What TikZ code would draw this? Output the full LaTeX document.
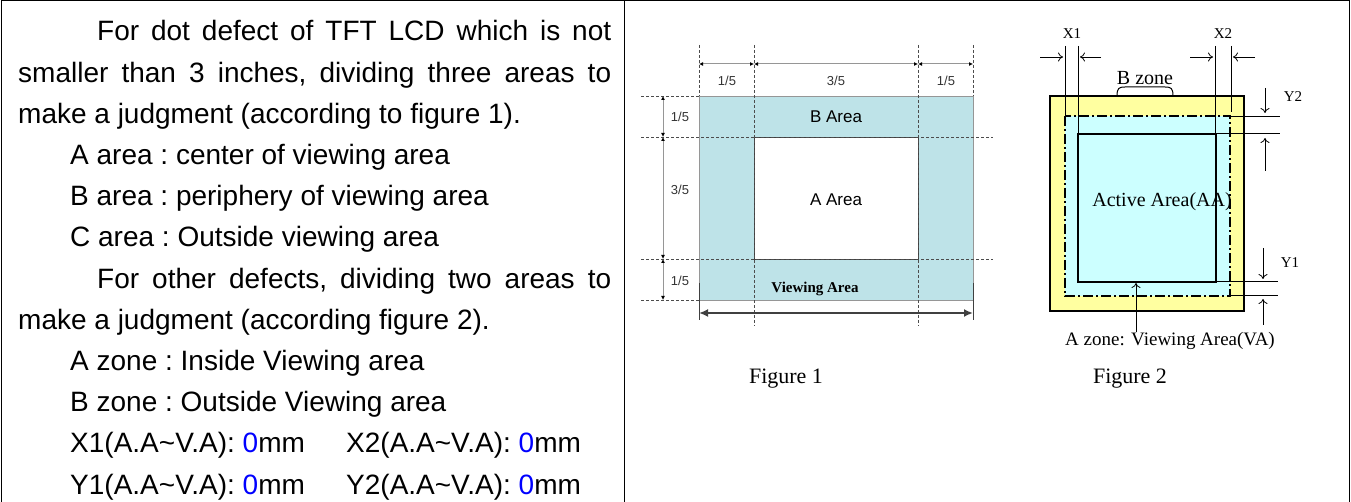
\documentclass[tikz,border=0pt]{standalone}
\usepackage{fontspec}
\setmainfont{Liberation Serif}
\setsansfont{Liberation Sans}
\usetikzlibrary{arrows.meta,calc,positioning}
\definecolor{areacyan}{RGB}{190,227,232}
\definecolor{zoneyellow}{RGB}{255,255,160}
\definecolor{zonecyan}{RGB}{204,255,255}
\definecolor{dimgray}{RGB}{150,150,150}
\definecolor{zeroblue}{RGB}{0,0,255}
\tikzset{
  frame/.style={draw=black,line width=1pt},
  lefttext/.style={anchor=north west,inner sep=0pt,text width=593pt,align=justify,
    font=\sffamily\fontsize{28}{41.2}\selectfont\frenchspacing},
  dimline/.style={draw=dimgray,line width=1pt,{Latex[length=4pt,width=4pt,black]}-{Latex[length=4pt,width=4pt,black]}},
  guide/.style={draw=black!70,densely dashed,line width=0.4pt},
  fraclabel/.style={font=\sffamily\fontsize{13}{13}\selectfont,text=black!80,inner sep=0pt},
  arealabel/.style={font=\sffamily\fontsize{17}{17}\selectfont,inner sep=0pt},
  zonelabel/.style={font=\fontsize{15}{15}\selectfont,inner sep=0pt},
  caption/.style={font=\fontsize{22}{22}\selectfont,inner sep=0pt},
  thinarrow/.style={draw=black,line width=0.8pt,-{To[length=5pt,width=9pt]}},
}
\begin{document}
\begin{tikzpicture}[x=1pt,y=-1pt]
 \useasboundingbox (0,0) rectangle (1351,502);
 % table frame
 \draw[frame] (1,502) -- (1,1) -- (1349,1) -- (1349,502);
 \draw[frame] (624,1) -- (624,502);

 % description
 \node[lefttext] (desc) at (18,20.5) {%
  \hspace*{79pt}For dot defect of TFT LCD which is not\linebreak
  smaller than 3 inches, dividing three areas to\linebreak
  make a judgment (according to figure 1).\par
  \hspace*{52pt}A area : center of viewing area\par
  \hspace*{52pt}B area : periphery of viewing area\par
  \hspace*{52pt}C area : Outside viewing area\par
  \hspace*{79pt}For other defects, dividing two areas to\linebreak
  make a judgment (according figure 2).\par
  \hspace*{52pt}A zone : Inside Viewing area\par
  \hspace*{52pt}B zone : Outside Viewing area\par
  \hspace*{52pt}\makebox[276pt][l]{X1(A.A\textasciitilde V.A): \textcolor{zeroblue}{0}mm}X2(A.A\textasciitilde V.A): \textcolor{zeroblue}{0}mm\par
  \hspace*{52pt}\makebox[276pt][l]{Y1(A.A\textasciitilde V.A): \textcolor{zeroblue}{0}mm}Y2(A.A\textasciitilde V.A): \textcolor{zeroblue}{0}mm};

 % figure 1
 \fill[areacyan] (699,96) rectangle (973,300);
 \draw[dimgray,line width=0.8pt] (699,96) rectangle (973,300);
 \fill[white] (754,137) rectangle (918,259);
 \draw[black!75,line width=0.8pt] (754,137) rectangle (918,259);
 \foreach \gx/\gtop/\gbot in {699/45/96,754/45/326,918/45/326,973/45/96}
  \draw[guide] (\gx,\gtop) -- (\gx,\gbot);
 \foreach \gy/\gend in {96/699,137/993,259/993,300/699}
  \draw[guide] (641,\gy) -- (\gend,\gy);
 \coordinate (t0) at (699,64);
 \coordinate (t1) at (754,64);
 \coordinate (t2) at (918,64);
 \coordinate (t3) at (973,64);
 \draw[dimline] (t0) -- (t1);
 \draw[dimline] (t1) -- (t2);
 \draw[dimline] (t2) -- (t3);
 \node[fraclabel] (ta) at (727,81) {1/5};
 \node[fraclabel] (tb) at (836,81) {3/5};
 \node[fraclabel] (tc) at (946,81) {1/5};
 \coordinate (s0) at (663,96);
 \coordinate (s1) at (663,137);
 \coordinate (s2) at (663,259);
 \coordinate (s3) at (663,300);
 \draw[dimline] (s0) -- (s1);
 \draw[dimline] (s1) -- (s2);
 \draw[dimline] (s2) -- (s3);
 \node[fraclabel] (sa) at (680,117) {1/5};
 \node[fraclabel] (sb) at (680,190) {3/5};
 \node[fraclabel] (sc) at (680,281) {1/5};
 \node[arealabel] (barea) at (836,117) {B Area};
 \node[arealabel] (aarea) at (836,200) {A Area};
 \node[font=\bfseries\fontsize{15}{15}\selectfont,inner sep=0pt] (va) at (815,289) {Viewing Area};
 \draw[black!75,line width=1pt] (699,283) -- (699,320);
 \draw[black!75,line width=1pt] (973,283) -- (973,320);
 \coordinate (w0) at (699,313);
 \coordinate (w1) at (973,313);
 \draw[black!75,line width=1.8pt,{Latex[length=9pt,width=8pt]}-{Latex[length=9pt,width=8pt]}] (w0) -- (w1);
 \node[caption] (fig1) at (786,379) {Figure 1};

 % figure 2
 \draw[fill=zoneyellow,line width=1.3pt] (1050,96) rectangle (1244,311);
 \draw[fill=zonecyan,line width=1.3pt,dash pattern=on 10pt off 3pt on 2pt off 3pt] (1065,116) rectangle (1230,296);
 \draw[line width=1.3pt] (1078,134) rectangle (1216,282);
 \draw[line width=1pt] (1065,46) -- (1065,116);
 \draw[line width=1pt] (1078,46) -- (1078,134);
 \draw[line width=1pt] (1215,46) -- (1215,143);
 \draw[line width=1pt] (1231,46) -- (1231,112);
 \coordinate (x1l) at (1040,57);
 \coordinate (x1r) at (1101,57);
 \coordinate (x2l) at (1190,57);
 \coordinate (x2r) at (1255,57);
 \draw[thinarrow] (x1l) -- (1063,57);
 \draw[thinarrow] (x1r) -- (1080,57);
 \draw[thinarrow] (x2l) -- (1213,57);
 \draw[thinarrow] (x2r) -- (1233,57);
 \node[zonelabel] (x1lab) at (1072,34) {X1};
 \node[zonelabel] (x2lab) at (1223,34) {X2};
 \node[font=\fontsize{20}{20}\selectfont,inner sep=0pt] (bzone) at (1145,78) {B zone};
 \draw[line width=1pt] (1117,96) .. controls (1117,88) and (1119,87) .. (1125,87)
   -- (1165,87) .. controls (1171,87) and (1173,88) .. (1173,96);
 \draw[line width=1pt] (1230,117) -- (1280,117);
 \draw[line width=1pt] (1216,134) -- (1280,134);
 \draw[thinarrow] (1265,88) -- (1265,113);
 \draw[thinarrow] (1265,171) -- (1265,138);
 \node[zonelabel] (y2lab) at (1293,97) {Y2};
 \draw[line width=1pt] (1216,282) -- (1278,282);
 \draw[line width=1pt] (1230,296) -- (1278,296);
 \draw[thinarrow] (1263,248) -- (1263,279);
 \draw[thinarrow] (1263,325) -- (1263,299);
 \node[zonelabel] (y1lab) at (1290,263) {Y1};
 \node[font=\fontsize{20}{20}\selectfont,inner sep=0pt] (aa) at (1162,202) {Active Area(AA)};
 \node[font=\fontsize{19}{19}\selectfont,inner sep=0pt] (azone) at (1170,341) {A zone: Viewing Area(VA)};
 \draw[thinarrow] (azone.north -| 1136,0) -- (1136,283);
 \node[caption] (fig2) at (1130,379) {Figure 2};
\end{tikzpicture}
\end{document}
